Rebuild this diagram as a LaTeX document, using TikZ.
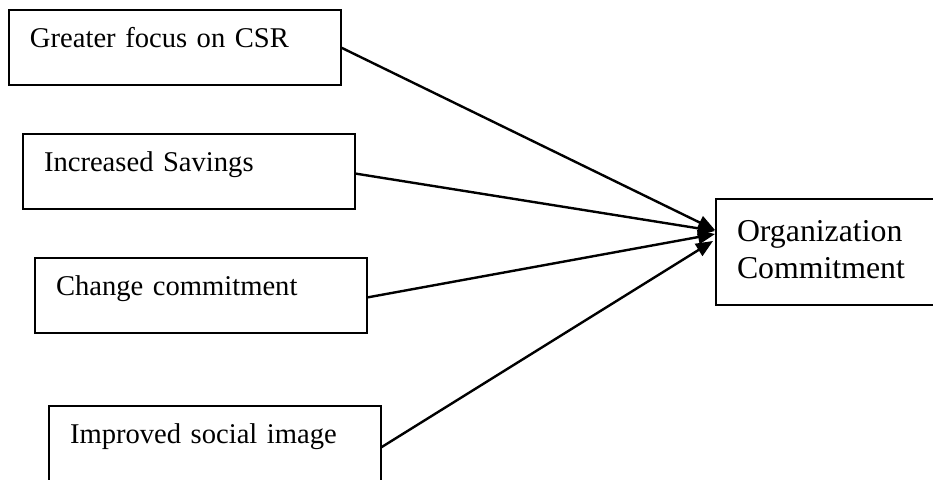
\documentclass[tikz,border=0pt]{standalone}
\usepackage{fontspec}
\setmainfont{Liberation Serif}
\usetikzlibrary{arrows.meta}

\tikzset{
    srcbox/.style={draw=black, line width=1.2pt, anchor=north west, outer sep=0pt,
        inner xsep=10.5pt, inner ysep=0pt, text width=145pt, align=left,
        text height=19pt, text depth=18.5pt, font=\fontsize{14.3}{18.3}\selectfont},
    tgtbox/.style={srcbox, text width=94pt, text height=21.5pt, text depth=31.5pt,
        font=\fontsize{15.9}{18.3}\selectfont},
    link/.style={line width=1.2pt, -{Triangle[length=8.5pt, width=7pt]}}
}

\begin{document}
\begin{tikzpicture}[x=0.5pt, y=-0.5pt]
\useasboundingbox (0,0) rectangle (933,480);
\clip (0,0) rectangle (933,480);

            %factors
            \node[srcbox] (csr) at (9,10) {Greater focus on CSR};
            \node[srcbox] (savings) at (23,134) {Increased Savings};
            \node[srcbox] (change) at (35,258) {Change commitment};
            \node[srcbox] (image) at (49,406) {Improved social image};

            % outcome
            \node[tgtbox] (org) at (716,199) {Organization\\Commitment};

            %relations
            \draw[link] (csr.east) -- ([shift={(-1,-22)}]org.west);
            \draw[link] ([yshift=-1pt]savings.east) -- ([shift={(-1,-21)}]org.west);
            \draw[link] ([yshift=-1pt]change.east) -- ([shift={(-1,-18)}]org.west);
            \draw[link] ([yshift=-2pt]image.east) -- ([shift={(-3,-11)}]org.west);
\end{tikzpicture}
\end{document}
